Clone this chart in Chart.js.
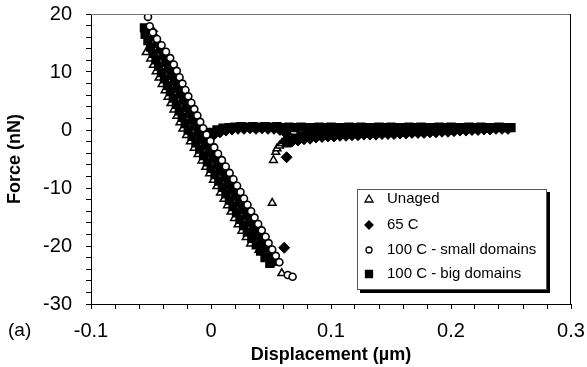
<!DOCTYPE html>
<html>
<head>
<meta charset="utf-8">
<script src="https://cdn.jsdelivr.net/npm/chart.js"></script>
<style>
  body { margin: 0; background: #fff; }
  #wrap { width: 587px; height: 367px; }
</style>
</head>
<body>
<div id="wrap"><canvas id="chart" width="587" height="367"></canvas></div>
<script>
// series names, in legend order
const seriesNames = ['Unaged', '65 C', '100 C - small domains', '100 C - big domains'];
const xTitle = 'Displacement (\u00b5m)';
const yTitle = 'Force (nN)';
const panelLabel = '(a)';
const xTickLabels = [-0.1, 0, 0.1, 0.2, 0.3];
const yTickLabels = [-30, -20, -10, 0, 10, 20];

// Unaged (open triangles): approach line, then the snap-off points
const unagedX = [-0.054, -0.0503, -0.0480, -0.0457, -0.0433, -0.0408, -0.0383, -0.0358, -0.0334, -0.0309,
  -0.0284, -0.0259, -0.0235, -0.0204, -0.0172, -0.0140, -0.0108, -0.0076, -0.0044, -0.0012,
  0.0020, 0.0049, 0.0079, 0.0108, 0.0137, 0.0167, 0.0196, 0.0226, 0.0257, 0.0293,
  0.0330, 0.0400, 0.0470, 0.0550, 0.0590,
  0.0510, 0.0520, 0.0540, 0.0550, 0.0570, 0.0590, 0.0610, 0.0630];
const unagedY = [13.4, 12.3, 11.2, 10.1, 9.0, 7.9, 6.8, 5.7, 4.6, 3.5,
  2.4, 1.3, 0.2, -0.9, -2.0, -3.1, -4.2, -5.3, -6.4, -7.5,
  -8.6, -9.7, -10.8, -11.9, -13.0, -14.1, -15.2, -16.3, -17.4, -18.5,
  -19.6, -20.7, -21.8, -22.9, -24.7,
  -12.6, -5.2, -3.8, -3.2, -2.7, -2.3, -1.9, -1.6];

// 65 C (filled diamonds): approach, two stray points, retract band
const c65X = [-0.0489, -0.0467, -0.0444, -0.0421, -0.0399, -0.0376, -0.0354, -0.0329, -0.0305, -0.0280,
  -0.0255, -0.0230, -0.0206, -0.0181, -0.0156, -0.0131, -0.0103, -0.0071, -0.0039, -0.0007,
  0.0025, 0.0057, 0.0089, 0.0121, 0.0151, 0.0181, 0.0210, 0.0239, 0.0268, 0.0298,
  0.0327, 0.0357, 0.0393, 0.0430, 0.0467, 0.0503, 0.0530,
  0.0610, 0.0630];
const c65Y = [17.0, 15.9, 14.8, 13.7, 12.6, 11.5, 10.4, 9.3, 8.2, 7.1,
  6.0, 4.9, 3.8, 2.7, 1.6, 0.5, -0.6, -1.7, -2.8, -3.9,
  -5.0, -6.1, -7.2, -8.3, -9.4, -10.5, -11.6, -12.7, -13.8, -14.9,
  -16.0, -17.1, -18.2, -19.3, -20.4, -21.5, -22.6,
  -20.3, -4.7];
const c65RetractX = [0.0025, 0.0075, 0.0125, 0.0175, 0.0225, 0.0275, 0.0325, 0.0375, 0.0425, 0.0475,
  0.0525, 0.0575, 0.0625, 0.0675, 0.0725, 0.0775, 0.0825, 0.0875, 0.0925, 0.0975,
  0.1025, 0.1075, 0.1125, 0.1175, 0.1225, 0.1275, 0.1325, 0.1375, 0.1425, 0.1475,
  0.1525, 0.1575, 0.1625, 0.1675, 0.1725, 0.1775, 0.1825, 0.1875, 0.1925, 0.1975,
  0.2025, 0.2075, 0.2125, 0.2175, 0.2225, 0.2275, 0.2325, 0.2375, 0.2425, 0.2475];
const c65RetractY = [-0.8, -0.4, -0.1, 0.1, 0.2, 0.2, 0.3, 0.2, 0.3, 0.2,
  0.2, 0.0, -0.6, -2.0, -1.8, -1.6, -1.5, -1.3, -1.2, -1.1,
  -1.1, -1.0, -1.0, -0.9, -0.9, -0.8, -0.8, -0.8, -0.7, -0.7,
  -0.7, -0.6, -0.6, -0.5, -0.5, -0.5, -0.4, -0.4, -0.3, -0.3,
  -0.2, -0.1, -0.1, 0.0, 0.0, 0.1, 0.1, 0.2, 0.2, 0.2];

// 100 C - small domains (open circles)
const smallX = [-0.0525, -0.0510, -0.0485, -0.0450, -0.0412, -0.0375, -0.0340, -0.0310, -0.0285, -0.0262,
  -0.0238, -0.0213, -0.0189, -0.0164, -0.0139, -0.0114, -0.0090, -0.0065, -0.0037, -0.0005,
  0.0027, 0.0059, 0.0091, 0.0123, 0.0155, 0.0187, 0.0217, 0.0246, 0.0275, 0.0304,
  0.0334, 0.0363, 0.0393, 0.0423, 0.0455, 0.0480, 0.0510, 0.0540, 0.0570, 0.0640, 0.0680];
const smallY = [19.5, 17.9, 16.8, 15.7, 14.6, 13.5, 12.4, 11.3, 10.2, 9.1,
  8.0, 6.9, 5.8, 4.7, 3.6, 2.5, 1.4, 0.3, -0.8, -1.9,
  -3.0, -4.1, -5.2, -6.3, -7.4, -8.5, -9.6, -10.7, -11.8, -12.9,
  -14.0, -15.1, -16.2, -17.3, -18.4, -19.5, -20.6, -21.7, -22.8, -25.0, -25.3];

// 100 C - big domains (filled squares): approach, top row of retract band, lower row
const bigX = [-0.0555, -0.0549, -0.0526, -0.0504, -0.0481, -0.0459, -0.0436, -0.0413, -0.0388, -0.0363,
  -0.0339, -0.0314, -0.0289, -0.0264, -0.0240, -0.0215, -0.0190, -0.0158, -0.0126, -0.0094,
  -0.0062, -0.0030, 0.0001, 0.0033, 0.0065, 0.0095, 0.0124, 0.0153, 0.0183, 0.0212,
  0.0241, 0.0271, 0.0303, 0.0340, 0.0377, 0.0413, 0.0450, 0.0490];
const bigY = [17.6, 16.5, 15.4, 14.3, 13.2, 12.1, 11.0, 9.9, 8.8, 7.7,
  6.6, 5.5, 4.4, 3.3, 2.2, 1.1, 0.0, -1.1, -2.2, -3.3,
  -4.4, -5.5, -6.6, -7.7, -8.8, -9.9, -11.0, -12.1, -13.2, -14.3,
  -15.4, -16.5, -17.6, -18.7, -19.8, -20.9, -22.0, -23.0];
const bigRetractX = [0.000, 0.005, 0.010, 0.015, 0.020, 0.025, 0.030, 0.035, 0.040, 0.045,
  0.050, 0.055, 0.060, 0.065, 0.070, 0.075, 0.080, 0.085, 0.090, 0.095,
  0.100, 0.105, 0.110, 0.115, 0.120, 0.125, 0.130, 0.135, 0.140, 0.145,
  0.150, 0.155, 0.160, 0.165, 0.170, 0.175, 0.180, 0.185, 0.190, 0.195,
  0.200, 0.205, 0.210, 0.215, 0.220, 0.225, 0.230, 0.235, 0.240, 0.245, 0.250];
const bigRetractY = [-0.4, 0.0, 0.3, 0.4, 0.5, 0.6, 0.5, 0.6, 0.5, 0.6,
  0.5, 0.6, 0.4, 0.5, 0.4, 0.5, 0.4, 0.4, 0.5, 0.4,
  0.5, 0.4, 0.4, 0.5, 0.4, 0.5, 0.4, 0.4, 0.5, 0.4,
  0.5, 0.4, 0.4, 0.5, 0.4, 0.5, 0.4, 0.4, 0.5, 0.4,
  0.5, 0.4, 0.4, 0.5, 0.4, 0.5, 0.4, 0.4, 0.5, 0.4, 0.4];
const bigLowX = [0.063, 0.066, 0.070, 0.075, 0.080, 0.085, 0.090, 0.095, 0.100, 0.105,
  0.110, 0.115, 0.120, 0.125, 0.130, 0.135, 0.140, 0.145, 0.150, 0.155,
  0.160, 0.165, 0.170, 0.175, 0.180, 0.185, 0.190, 0.195, 0.200];
const bigLowY = [-2.2, -1.8, -1.4, -1.1, -0.9, -0.7, -0.6, -0.5, -0.5, -0.4,
  -0.4, -0.4, -0.3, -0.3, -0.3, -0.3, -0.2, -0.2, -0.2, -0.2,
  -0.1, -0.1, -0.1, -0.1, 0.0, 0.0, 0.0, 0.0, 0.0];

function pts(xs, ys) {
  return xs.map((x, i) => ({ x: x, y: ys[i] }));
}

const FONT = '"Liberation Sans", Arial, Helvetica, sans-serif';
Chart.defaults.font.family = FONT;
Chart.defaults.color = '#000';

function tickText(list, value) {
  const t = list.find(v => Math.abs(v - value) < 1e-6);
  return t === undefined ? '' : String(t);
}

// draws the legend box, panel letter and the top/right frame
const extrasPlugin = {
  id: 'extras',
  afterDraw(chart) {
    const ctx = chart.ctx;
    const a = chart.chartArea;
    ctx.save();
    // frame
    ctx.lineWidth = 1;
    ctx.strokeStyle = '#777';
    ctx.beginPath();
    ctx.moveTo(a.left, a.top + 0.5);
    ctx.lineTo(a.right, a.top + 0.5);
    ctx.stroke();
    ctx.strokeStyle = '#000';
    ctx.beginPath();
    ctx.moveTo(a.right - 0.5, a.top);
    ctx.lineTo(a.right - 0.5, a.bottom);
    ctx.stroke();

    // panel letter
    ctx.fillStyle = '#000';
    ctx.font = '19px ' + FONT;
    ctx.textBaseline = 'middle';
    ctx.textAlign = 'left';
    ctx.fillText(panelLabel, 8, 331);

    // legend
    const bx = 357, by = 189, bw = 190, bh = 101;
    ctx.fillStyle = '#000';
    ctx.fillRect(bx + 3, by + 3, bw, bh);
    ctx.fillStyle = '#fff';
    ctx.fillRect(bx, by, bw, bh);
    ctx.strokeStyle = '#555';
    ctx.strokeRect(bx + 0.5, by + 0.5, bw - 1, bh - 1);

    const rows = [199, 225, 250, 274];
    const mx = 369;
    ctx.font = '15px ' + FONT;
    chart.data.datasets.forEach((ds, i) => {
      const y = rows[i];
      ctx.lineWidth = 1.3;
      ctx.strokeStyle = '#000';
      ctx.fillStyle = ds.pointBackgroundColor;
      ctx.beginPath();
      if (ds.pointStyle === 'triangle') {
        ctx.moveTo(mx, y - 4);
        ctx.lineTo(mx + 4, y + 3);
        ctx.lineTo(mx - 4, y + 3);
        ctx.closePath();
      } else if (ds.pointStyle === 'rectRot') {
        ctx.moveTo(mx, y - 4);
        ctx.lineTo(mx + 4, y);
        ctx.lineTo(mx, y + 4);
        ctx.lineTo(mx - 4, y);
        ctx.closePath();
      } else if (ds.pointStyle === 'circle') {
        ctx.arc(mx, y, 3, 0, Math.PI * 2);
      } else {
        ctx.rect(mx - 3.5, y - 3.5, 7, 7);
      }
      ctx.fill();
      ctx.stroke();
      ctx.fillStyle = '#000';
      ctx.fillText(ds.label, 387, y);
    });
    ctx.restore();
  }
};

new Chart(document.getElementById('chart').getContext('2d'), {
  type: 'scatter',
  data: {
    datasets: [{
      label: seriesNames[0],
      data: pts(unagedX, unagedY),
      pointStyle: 'triangle',
      pointRadius: 4.5,
      pointBackgroundColor: '#fff',
      pointBorderColor: '#000',
      pointBorderWidth: 1.5,
      order: 4
    }, {
      label: seriesNames[1],
      data: pts(c65X, c65Y).concat(pts(c65RetractX, c65RetractY)),
      pointStyle: 'rectRot',
      pointRadius: 5.5,
      pointBackgroundColor: '#000',
      pointBorderColor: '#000',
      pointBorderWidth: 1,
      order: 2
    }, {
      label: seriesNames[2],
      data: pts(smallX, smallY),
      pointStyle: 'circle',
      pointRadius: 3.5,
      pointBackgroundColor: '#fff',
      pointBorderColor: '#000',
      pointBorderWidth: 1.6,
      order: 0
    }, {
      label: seriesNames[3],
      data: pts(bigX, bigY).concat(pts(bigRetractX, bigRetractY), pts(bigLowX, bigLowY)),
      pointStyle: 'rect',
      pointRadius: 5.5,
      pointBackgroundColor: '#000',
      pointBorderColor: '#000',
      pointBorderWidth: 1.5,
      order: 3
    }]
  },
  options: {
    responsive: false,
    animation: false,
    devicePixelRatio: 1,
    layout: { padding: { top: 14, right: 16, left: 0, bottom: 0 } },
    plugins: {
      legend: { display: false },
      tooltip: { enabled: false }
    },
    scales: {
      x: {
        type: 'linear',
        min: -0.1,
        max: 0.3,
        afterFit: s => {
          s.height = 63;
          s.paddingLeft = 0;
          s.paddingRight = 0;
        },
        border: { color: '#000', width: 1 },
        grid: { drawOnChartArea: false, tickLength: 5, tickColor: '#000' },
        ticks: {
          stepSize: 0.02,
          autoSkip: false,
          maxRotation: 0,
          padding: 10,
          font: { size: 20 },
          callback: v => tickText(xTickLabels, v)
        },
        title: {
          display: true,
          text: xTitle,
          font: { size: 18, weight: 'bold' },
          padding: { top: 0, bottom: 1 }
        }
      },
      y: {
        type: 'linear',
        min: -30,
        max: 20,
        afterFit: s => {
          s.width = 91;
          s.paddingTop = 0;
          s.paddingBottom = 0;
        },
        border: { color: '#000', width: 1 },
        grid: { drawOnChartArea: false, tickLength: 5, tickColor: '#000' },
        ticks: {
          stepSize: 2,
          autoSkip: false,
          padding: 14,
          font: { size: 20 },
          callback: v => tickText(yTickLabels, v)
        },
        title: {
          display: true,
          text: yTitle,
          font: { size: 18, weight: 'bold' },
          padding: { top: 4, bottom: 0 }
        }
      }
    }
  },
  plugins: [extrasPlugin]
});
</script>
</body>
</html>
